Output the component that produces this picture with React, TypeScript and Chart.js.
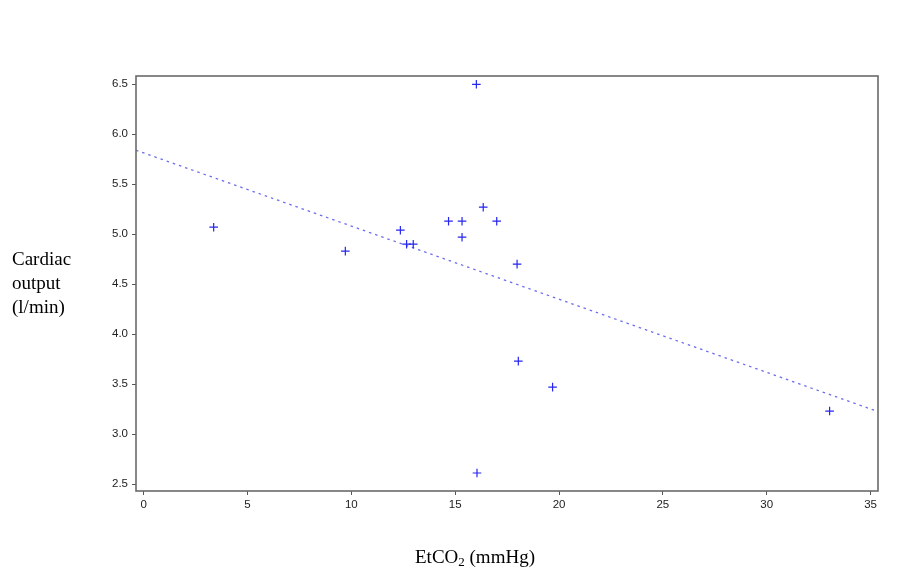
import { useEffect, useRef } from "react"
import { Chart, ChartConfiguration, registerables } from "chart.js"

Chart.register(...registerables)

// EtCO2 (mmHg) vs cardiac output (l/min)
const etco2 = [3.37, 9.71, 12.36, 12.66, 12.98, 14.68, 15.33, 15.33, 16.02, 16.35, 17.0, 17.98, 18.04, 19.69, 16.05, 33.03]
const cardiacOutput = [5.07, 4.83, 5.04, 4.9, 4.9, 5.13, 5.13, 4.97, 6.5, 5.27, 5.13, 4.7, 3.73, 3.47, 2.61, 3.23]

// fitted line, read at the plot edges
const fitX = [-0.37, 35.36]
const fitY = [5.84, 3.225]

const xTicks = [0, 5, 10, 15, 20, 25, 30, 35]
const yTicks = [2.5, 3.0, 3.5, 4.0, 4.5, 5.0, 5.5, 6.0, 6.5]

const frame = {
  id: "frame",
  afterDraw(chart: Chart) {
    const { ctx, chartArea } = chart
    ctx.save()
    ctx.strokeStyle = "#6a6a6a"
    ctx.lineWidth = 1.6
    ctx.strokeRect(chartArea.left, chartArea.top, chartArea.right - chartArea.left, chartArea.bottom - chartArea.top)
    ctx.restore()
  },
}

export default function App() {
  const chartRef = useRef<HTMLCanvasElement>(null)
  const chartInstanceRef = useRef<Chart | null>(null)

  useEffect(() => {
    if (!chartRef.current) return
    if (chartInstanceRef.current) chartInstanceRef.current.destroy()
    const ctx = chartRef.current.getContext("2d")
    if (!ctx) return

    const tickFont = { family: "'Liberation Sans', Arial, sans-serif", size: 11.5 }

    const config: ChartConfiguration = {
      type: "scatter",
      data: {
        datasets: [
          {
            label: "Cardiac output",
            data: etco2.map((x, i) => ({ x, y: cardiacOutput[i] })),
            pointStyle: "cross",
            pointRadius: 4.3,
            borderColor: "#2626f0",
            borderWidth: 1.2,
            showLine: false,
          },
          {
            label: "Fit",
            data: fitX.map((x, i) => ({ x, y: fitY[i] })),
            showLine: true,
            borderColor: "#6c6cec",
            borderWidth: 1.3,
            borderDash: [2.5, 4],
            pointRadius: 0,
          },
        ],
      },
      options: {
        animation: false,
        responsive: false,
        layout: { padding: { left: 0, right: 22, top: 76, bottom: 56 } },
        plugins: { legend: { display: false }, tooltip: { enabled: false } },
        scales: {
          x: {
            type: "linear",
            min: -0.37,
            max: 35.36,
            afterBuildTicks: (scale) => {
              scale.ticks = xTicks.map((value) => ({ value }))
            },
            afterFit: (scale) => {
              scale.height = 30
            },
            grid: { drawOnChartArea: false, drawTicks: true, tickLength: 4, color: "#555555" },
            border: { display: false },
            ticks: { color: "#222222", font: tickFont, padding: 3, maxRotation: 0 },
          },
          y: {
            type: "linear",
            min: 2.43,
            max: 6.583,
            afterBuildTicks: (scale) => {
              scale.ticks = yTicks.map((value) => ({ value }))
            },
            afterFit: (scale) => {
              scale.width = 136
            },
            grid: { drawOnChartArea: false, drawTicks: true, tickLength: 4, color: "#555555" },
            border: { display: false },
            ticks: {
              color: "#222222",
              font: tickFont,
              padding: 4,
              callback: (value) => Number(value).toFixed(1),
            },
          },
        },
      },
      plugins: [frame],
    }

    chartInstanceRef.current = new Chart(ctx, config)

    return () => {
      if (chartInstanceRef.current) {
        chartInstanceRef.current.destroy()
        chartInstanceRef.current = null
      }
    }
  }, [])

  const serif = "'Liberation Serif', 'Times New Roman', serif"

  return (
    <div style={{ position: "absolute", left: 0, top: 0, width: 900, height: 577, background: "#fff" }}>
      <canvas ref={chartRef} width={900} height={577} style={{ position: "absolute", left: 0, top: 0 }} />
      <div
        style={{
          position: "absolute",
          left: 12,
          top: 247,
          fontFamily: serif,
          fontSize: 19,
          lineHeight: "24px",
          color: "#000",
        }}
      >
        Cardiac
        <br />
        output
        <br />
        (l/min)
      </div>
      <div
        style={{
          position: "absolute",
          left: 415,
          top: 545,
          fontFamily: serif,
          fontSize: 19,
          lineHeight: "24px",
          color: "#000",
          whiteSpace: "nowrap",
        }}
      >
        EtCO<sub style={{ fontSize: 13, lineHeight: 0, verticalAlign: "-3px" }}>2</sub> (mmHg)
      </div>
    </div>
  )
}
